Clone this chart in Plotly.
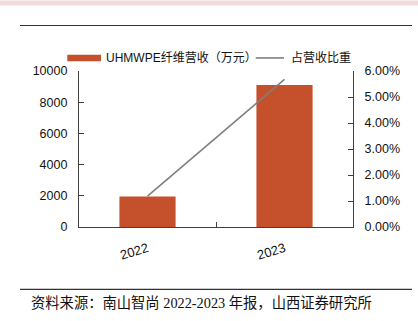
import plotly.graph_objects as go

years = ["2022", "2023"]
revenue = [1950, 9100]            # UHMWPE纤维营收（万元）
share = [0.0119, 0.0568]          # 占营收比重
bar_name = "UHMWPE纤维营收（万元）"
line_name = "占营收比重"
source_text = "资料来源：南山智尚 2022-2023 年报，山西证券研究所"

W, H = 418, 321
L, R, T, B = 79, 353, 70.7, 227.3
pw, ph = R - L, B - T

def px(x):
    return (x - L) / pw

def py(y):
    return (B - y) / ph

BAR_COLOR = "#C4512B"
LINE_COLOR = "#7F7F7F"
AXIS_COLOR = "#404040"
FONT = "Liberation Sans, Arial, Noto Sans CJK SC, sans-serif"

fig = go.Figure()
fig.add_trace(go.Bar(x=years, y=revenue, name=bar_name, marker_color=BAR_COLOR,
                     marker_line_width=0, width=0.41, yaxis="y", showlegend=False))
fig.add_trace(go.Scatter(x=years, y=share, name=line_name, mode="lines",
                         line=dict(color=LINE_COLOR, width=1.6), yaxis="y2", showlegend=False))

shapes = [
    dict(type="rect", xref="paper", yref="paper", x0=px(0), x1=px(W), y0=py(0), y1=py(5),
         fillcolor="#F2DCDB", line_width=0, layer="below"),
    dict(type="line", xref="paper", yref="paper", x0=px(20), x1=px(412), y0=py(25), y1=py(25),
         line=dict(color="#333333", width=1.2)),
    dict(type="line", xref="paper", yref="paper", x0=px(20), x1=px(412), y0=py(290), y1=py(290),
         line=dict(color="#333333", width=1.2)),
    dict(type="rect", xref="paper", yref="paper", x0=px(67.3), x1=px(101), y0=py(61), y1=py(54.3),
         fillcolor=BAR_COLOR, line_width=0),
    dict(type="line", xref="paper", yref="paper", x0=px(255.7), x1=px(284), y0=py(57.6), y1=py(57.6),
         line=dict(color=LINE_COLOR, width=1.6)),
]

annotations = [
    dict(text=bar_name, xref="paper", yref="paper", x=px(104), y=py(57.6), xanchor="left",
         yanchor="middle", showarrow=False, font=dict(family=FONT, size=12, color="#111111")),
    dict(text=line_name, xref="paper", yref="paper", x=px(289), y=py(57.6), xanchor="left",
         yanchor="middle", showarrow=False, font=dict(family=FONT, size=12, color="#111111")),
    dict(text=source_text, xref="paper", yref="paper", x=px(29), y=py(304), xanchor="left",
         yanchor="middle", showarrow=False,
         font=dict(family="Liberation Serif, Noto Sans CJK SC, serif", size=14.3, color="#111111")),
]

fig.update_layout(
    width=W, height=H,
    margin=dict(l=L, r=W - R, t=T, b=H - B, pad=0),
    paper_bgcolor="white", plot_bgcolor="white",
    font=dict(family=FONT, size=12, color="#111111"),
    xaxis=dict(type="category", showline=True, linecolor=AXIS_COLOR, linewidth=1.2,
               ticks="inside", tickson="boundaries", ticklen=5, tickcolor=AXIS_COLOR,
               tickangle=-17, showgrid=False, zeroline=False, ticklabelstandoff=8,
               tickfont=dict(family=FONT, size=13, color="#111111")),
    yaxis=dict(range=[0, 10000], dtick=2000, tickformat="d", showline=True, linecolor=AXIS_COLOR,
               linewidth=1.2, ticks="inside", ticklen=5, tickcolor=AXIS_COLOR, showgrid=False,
               zeroline=False, tickfont=dict(family=FONT, size=12.5, color="#111111"),
               ticklabelstandoff=8),
    yaxis2=dict(range=[0, 0.06], dtick=0.01, tickformat=".2%", overlaying="y", side="right",
                showline=True, linecolor=AXIS_COLOR, linewidth=1.2, ticks="inside", ticklen=5,
                tickcolor=AXIS_COLOR, showgrid=False, zeroline=False,
                tickfont=dict(family=FONT, size=12.5, color="#111111"), ticklabelstandoff=8),
    shapes=shapes,
    annotations=annotations,
    showlegend=False,
)

fig.write_html("out.html")
